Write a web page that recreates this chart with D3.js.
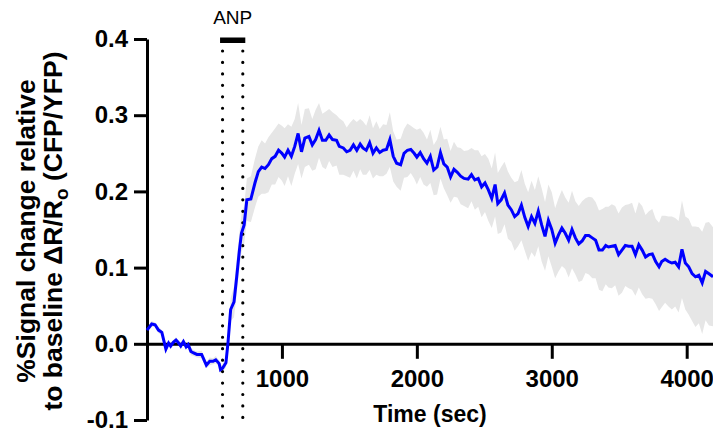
<!DOCTYPE html>
<html>
<head>
<meta charset="utf-8">
<script src="https://cdn.jsdelivr.net/npm/d3@7"></script>
<style>
  html, body { margin: 0; padding: 0; background: #fff; }
  svg { display: block; }
  text { font-family: "Liberation Sans", Arial, Helvetica, sans-serif; }
</style>
</head>
<body>
<svg id="chart" width="713" height="434"></svg>
<script>
// ---------------- data ----------------
const timeSec = [
  0,35,60,85,110,140,160,175,195,215,230,250,270,290,305,325,345,370,405,440,465,490,510,535,545,560,
  585,600,620,645,665,685,700,720,
  740,770,800,825,850,875,900,925,950,975,
  1000,1020,1045,1070,1095,1120,1145,1170,1200,1225,1250,1275,1300,1325,1350,1375,1405,1425,1455,1480,1505,1530,1555,1580,1600,1625,1650,1675,1700,1725,1750,1775,1800,
  1825,1850,1880,1905,1930,1955,1980,2000,2025,2050,2075,2100,2125,2150,2175,2200,2225,2250,2275,2300,2325,
  2350,2380,2405,2430,2455,2480,2505,2530,2555,2580,2600,2625,2650,2675,2700,2725,2750,2775,2800,2825,2850,2875,2900,2925,2950,2975,3000,
  3025,3050,3075,3100,3125,3150,3175,3200,3225,3250,3275,3300,3325,3350,3375,3400,3420,3445,3470,3495,3520,3545,3570,3595,3620,
  3645,3670,3695,3720,3745,3770,3795,3815,3840,3865,3890,3915,3940,3965,3990,4015,4040,4065,4090,4115,4140,4165,4195
];
const meanSignal = [
  0.018,0.026,0.025,0.018,0.015,-0.007,0.001,-0.003,0.002,0.005,0.002,-0.003,0.003,-0.004,-0.001,-0.010,-0.012,-0.014,-0.014,-0.028,-0.023,-0.023,-0.021,-0.026,-0.034,-0.032,
  -0.025,0.001,0.045,0.055,0.088,0.123,0.145,0.156,
  0.189,0.190,0.211,0.226,0.232,0.230,0.235,0.243,0.246,0.254,
  0.250,0.245,0.254,0.246,0.259,0.276,0.252,0.270,0.272,0.261,0.268,0.280,0.267,0.267,0.274,0.268,0.267,0.259,0.257,0.252,0.254,0.261,0.254,0.262,0.257,0.254,0.264,0.250,0.257,0.251,0.254,0.255,0.268,
  0.246,0.237,0.235,0.250,0.254,0.255,0.250,0.245,0.251,0.243,0.237,0.246,0.228,0.232,0.251,0.236,0.232,0.219,0.229,0.225,0.220,
  0.217,0.216,0.222,0.215,0.217,0.206,0.211,0.202,0.191,0.209,0.184,0.189,0.198,0.182,0.176,0.167,0.171,0.182,0.166,0.154,0.167,0.158,0.174,0.156,0.141,0.162,0.150,
  0.132,0.143,0.152,0.145,0.136,0.150,0.139,0.131,0.135,0.142,0.142,0.139,0.136,0.123,0.123,0.129,0.127,0.128,0.129,0.117,0.123,0.129,0.128,0.128,0.117,
  0.130,0.123,0.114,0.117,0.118,0.108,0.101,0.108,0.111,0.108,0.106,0.107,0.101,0.124,0.106,0.101,0.092,0.088,0.090,0.080,0.095,0.092,0.088
];
const semSignal = [
  0.004,0.004,0.003,0.004,0.003,0.004,0.003,0.004,0.003,0.004,0.003,0.004,0.003,0.004,0.003,0.005,0.004,0.004,0.005,0.004,0.005,0.004,0.005,0.004,0.005,0.005,
  0.006,0.010,0.015,0.020,0.022,0.022,0.025,0.025,
  0.028,0.030,0.032,0.033,0.035,0.033,0.036,0.034,0.037,0.035,
  0.036,0.038,0.034,0.039,0.036,0.040,0.035,0.038,0.037,0.034,0.039,0.036,0.035,0.038,0.034,0.036,0.033,0.037,0.035,0.032,0.036,0.034,0.037,0.033,0.035,0.032,0.036,0.033,0.035,0.031,0.034,0.032,0.036,
  0.033,0.031,0.034,0.032,0.035,0.031,0.033,0.036,0.032,0.034,0.031,0.035,0.033,0.036,0.034,0.032,0.037,0.034,0.036,0.033,0.037,
  0.036,0.038,0.035,0.039,0.037,0.040,0.038,0.041,0.039,0.042,0.040,0.043,0.041,0.044,0.042,0.045,0.043,0.046,0.044,0.045,0.047,0.044,0.046,0.048,0.045,0.047,0.049,
  0.046,0.048,0.050,0.047,0.049,0.051,0.048,0.050,0.052,0.049,0.051,0.053,0.050,0.052,0.054,0.051,0.053,0.055,0.052,0.054,0.056,0.053,0.055,0.057,0.054,
  0.056,0.058,0.055,0.057,0.059,0.056,0.058,0.060,0.057,0.059,0.061,0.058,0.060,0.064,0.061,0.063,0.062,0.066,0.063,0.067,0.064,0.068,0.065
];
const xTicks = [1000, 2000, 3000, 4000];
const yTicks = [-0.1, 0.0, 0.1, 0.2, 0.3, 0.4];
const anpWindow = [560, 710];
const anpLabel = "ANP";
const xTitle = "Time (sec)";
const yTitleLine1 = "%Signal change relative";

// ---------------- chart ----------------
const svg = d3.select("#chart");
const n = Math.min(timeSec.length, meanSignal.length, semSignal.length);
const data = d3.range(n).map(i => ({ t: timeSec[i], m: meanSignal[i], s: semSignal[i] }));

const x = d3.scaleLinear().domain([0, 4195]).range([147, 713]);
const y = d3.scaleLinear().domain([-0.1, 0.4]).range([420, 39]);

// SEM band
const area = d3.area()
  .x(d => x(d.t))
  .y0(d => y(d.m - d.s))
  .y1(d => y(d.m + d.s));
svg.append("path").datum(data)
  .attr("d", area)
  .attr("fill", "#e6e6e6");

// axes
const yAxis = d3.axisLeft(y).tickValues(yTicks).tickFormat(v => v.toFixed(1))
  .tickSize(13).tickSizeOuter(0).tickPadding(6);
const gy = svg.append("g").attr("transform", `translate(${x(0)},0)`).call(yAxis);

const xAxis = d3.axisBottom(x).tickValues(xTicks).tickFormat(d3.format("d"))
  .tickSize(15).tickSizeOuter(0).tickPadding(11);
const gx = svg.append("g").attr("transform", `translate(0,${y(0)})`).call(xAxis);

[gy, gx].forEach(g => {
  g.select(".domain").attr("stroke", "#000").attr("stroke-width", 3);
  g.selectAll(".tick line").attr("stroke", "#000").attr("stroke-width", 3);
  g.selectAll(".tick text").attr("fill", "#000")
    .style("font-size", "24px").style("font-weight", "bold")
    .style("font-family", '"Liberation Sans", Arial, sans-serif');
});

// ANP markers
const dotTop = 51, dotBottom = 418;
anpWindow.forEach(t => {
  svg.append("line")
    .attr("x1", x(t)).attr("x2", x(t))
    .attr("y1", dotTop).attr("y2", dotBottom)
    .attr("stroke", "#000").attr("stroke-width", 3.2)
    .attr("stroke-linecap", "round")
    .attr("stroke-dasharray", "0 11.45");
});
svg.append("rect")
  .attr("x", x(anpWindow[0]) - 2.5)
  .attr("y", 37.5)
  .attr("width", x(anpWindow[1]) - x(anpWindow[0]) + 5)
  .attr("height", 5.5)
  .attr("fill", "#000");
svg.append("text")
  .attr("x", (x(anpWindow[0]) + x(anpWindow[1])) / 2)
  .attr("y", 23.5)
  .attr("text-anchor", "middle")
  .style("font-size", "19px")
  .text(anpLabel);

// mean line
const line = d3.line().x(d => x(d.t)).y(d => y(d.m));
svg.append("path").datum(data)
  .attr("d", line)
  .attr("fill", "none")
  .attr("stroke", "#0000ff")
  .attr("stroke-width", 3)
  .attr("stroke-linejoin", "miter");

// titles
svg.append("text")
  .attr("x", 430).attr("y", 422)
  .attr("text-anchor", "middle")
  .style("font-size", "23px").style("font-weight", "bold")
  .text(xTitle);

const yc = 231;
svg.append("text")
  .attr("transform", `translate(35,${yc}) rotate(-90)`)
  .attr("text-anchor", "middle")
  .style("font-size", "26.5px").style("font-weight", "bold")
  .text(yTitleLine1);
const t2 = svg.append("text")
  .attr("transform", `translate(62,${yc}) rotate(-90)`)
  .attr("text-anchor", "middle")
  .style("font-size", "26.5px").style("font-weight", "bold");
t2.append("tspan").text("to baseline \u0394R/R");
t2.append("tspan").attr("dy", 6).style("font-size", "19px").text("o");
t2.append("tspan").attr("dy", -6).text(" (CFP/YFP)");
</script>
</body>
</html>
